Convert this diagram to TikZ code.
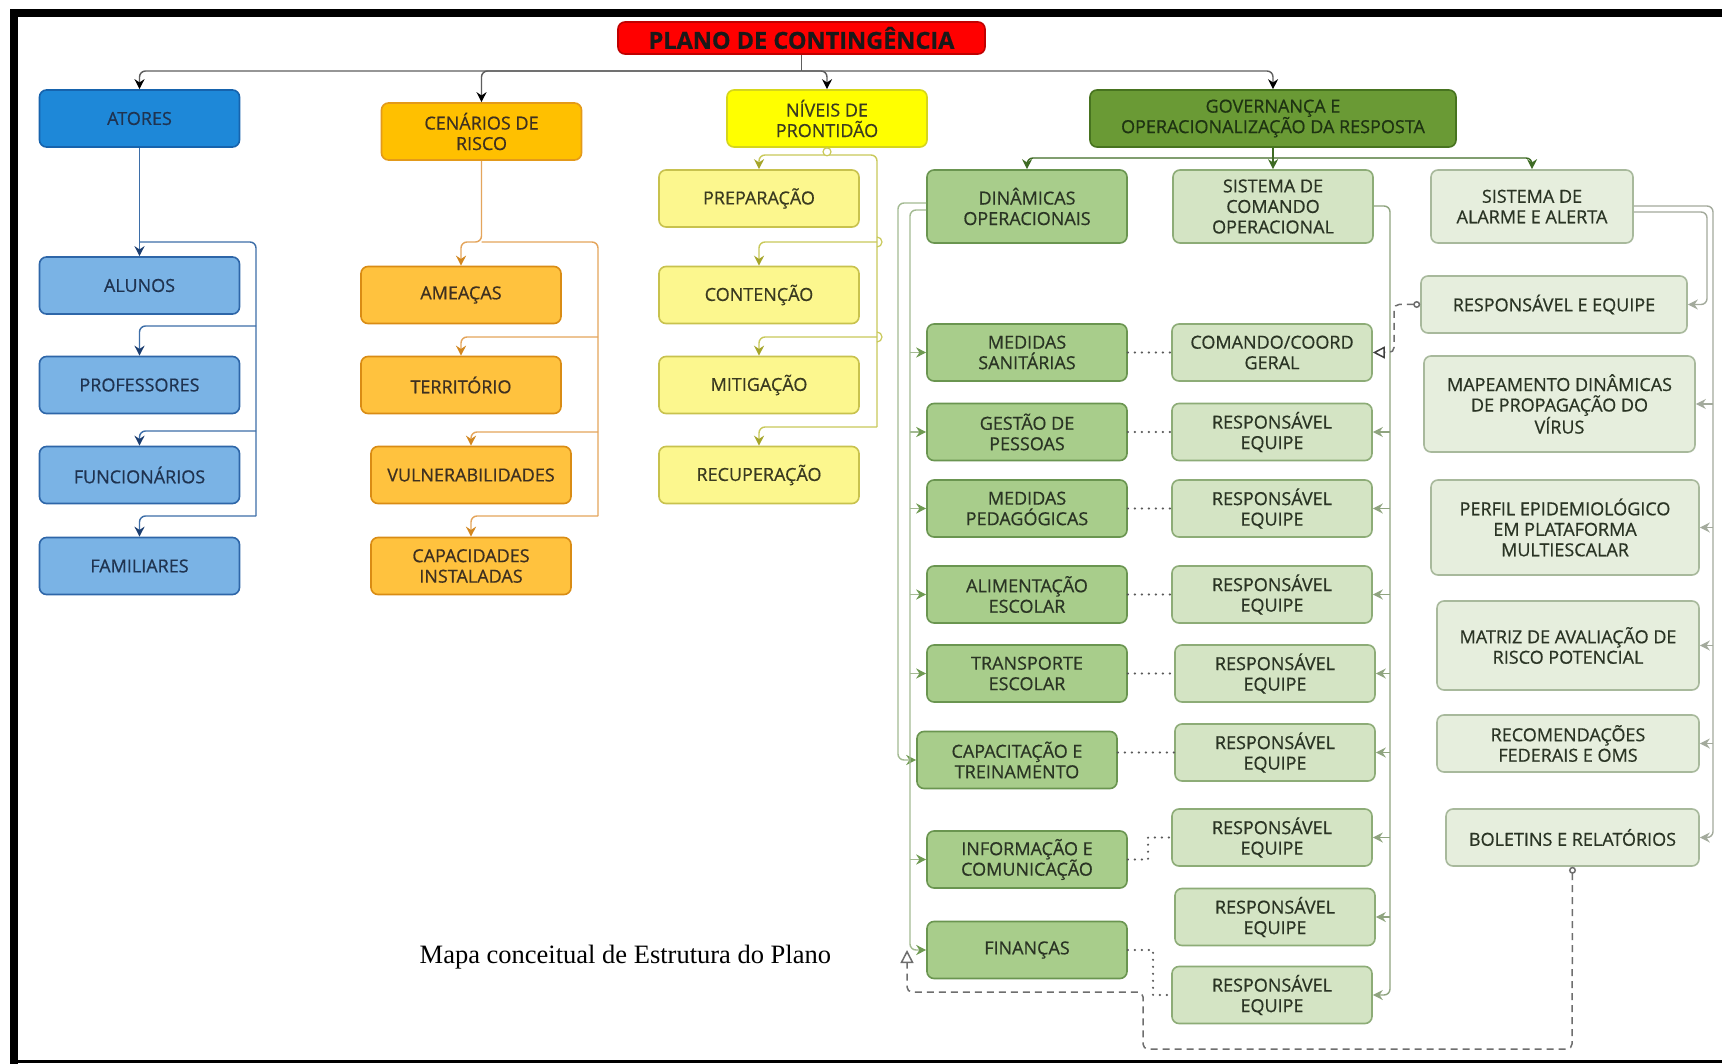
\documentclass[tikz,border=0pt]{standalone}
\usepackage{fontspec}
\setmainfont{Liberation Serif}
\newfontfamily\boxfont{Open Sans}[FakeBold=0.6]
\usetikzlibrary{arrows.meta}
\definecolor{plR}{HTML}{FF0000}
\definecolor{plB}{HTML}{C00000}
\definecolor{atF}{HTML}{1E88D8}
\definecolor{atB}{HTML}{1663AD}
\definecolor{blF}{HTML}{7AB3E5}
\definecolor{blB}{HTML}{2E66A8}
\definecolor{blT}{HTML}{1F3350}
\definecolor{ceF}{HTML}{FFC000}
\definecolor{ceB}{HTML}{E39A1A}
\definecolor{orF}{HTML}{FFC23E}
\definecolor{orB}{HTML}{D98C14}
\definecolor{orT}{HTML}{3E3020}
\definecolor{niF}{HTML}{FFFF00}
\definecolor{niB}{HTML}{D6D61A}
\definecolor{yeF}{HTML}{FCF78E}
\definecolor{yeB}{HTML}{C8C24E}
\definecolor{yeT}{HTML}{3A3A20}
\definecolor{goF}{HTML}{6A9A35}
\definecolor{goB}{HTML}{47731F}
\definecolor{goT}{HTML}{1E3312}
\definecolor{diF}{HTML}{A8CD8B}
\definecolor{diB}{HTML}{6A9550}
\definecolor{scF}{HTML}{D4E4C4}
\definecolor{scB}{HTML}{8DAC77}
\definecolor{saF}{HTML}{E6EEDD}
\definecolor{saB}{HTML}{A8B99C}
\definecolor{grT}{HTML}{2A3424}
\definecolor{busC}{HTML}{5E5E5E}
\definecolor{blL}{HTML}{3D6EA8}
\definecolor{blA}{HTML}{1B3D70}
\definecolor{orL}{HTML}{E4A55C}
\definecolor{orA}{HTML}{D2861E}
\definecolor{yeL}{HTML}{C9C95A}
\definecolor{yeA}{HTML}{A5A52A}
\definecolor{goL}{HTML}{3E6B24}
\definecolor{diL}{HTML}{A3BA92}
\definecolor{diA}{HTML}{6F9A52}
\definecolor{scL}{HTML}{8FA47F}
\definecolor{saL}{HTML}{A3AA9C}
\definecolor{dsh}{HTML}{6E6E6E}
\begin{document}
\begin{tikzpicture}[x=1pt,y=-1pt,
  bx/.style={draw, rounded corners=7pt, line width=1.6pt, minimum width=#1, minimum height=57,
    align=center, inner sep=2pt, font=\boxfont\fontsize{18}{20.5}\selectfont},
  bx/.default=200,
  plano/.style={bx=367, fill=plR, draw=plB, minimum height=32, text=black!90,
    font=\boxfont\bfseries\fontsize{23.5}{25}\selectfont},
  atop/.style={bx, fill=atF, draw=atB, text=blT},
  bchild/.style={bx, fill=blF, draw=blB, text=blT},
  ctop/.style={bx, fill=ceF, draw=ceB, text=orT},
  ochild/.style={bx, fill=orF, draw=orB, text=orT},
  ntop/.style={bx, fill=niF, draw=niB, text=yeT},
  ychild/.style={bx, fill=yeF, draw=yeB, text=yeT},
  gtop/.style={bx=366, fill=goF, draw=goB, text=goT},
  dbox/.style={bx, fill=diF, draw=diB, text=grT},
  sbox/.style={bx, fill=scF, draw=scB, text=grT},
  abox/.style={bx=#1, fill=saF, draw=saB, text=grT},
  abox/.default=266,
  ln/.style={line width=1.4pt, rounded corners=6pt},
  arr/.style={-{Stealth[length=10pt,width=10pt,color=#1]}},
  busl/.style={ln, draw=busC},
  bll/.style={ln, draw=blL},
  orl/.style={ln, draw=orL},
  yel/.style={ln, draw=yeL},
  gol/.style={ln, draw=goL},
  dil/.style={ln, draw=diL},
  scl/.style={ln, draw=scL},
  sal/.style={ln, draw=saL},
  dotl/.style={draw=black!65, line width=2.4pt, line cap=round, dash pattern=on 0pt off 7pt},
  dashl/.style={draw=dsh, line width=1.5pt, dash pattern=on 7pt off 5pt, rounded corners=5pt}
]
\useasboundingbox (0,0) rectangle (1722,1064);
\fill[white] (0,0) rectangle (1722,1064);
% frame
\fill[black] (10,9) rectangle (18,1064);
\fill[black] (10,9) rectangle (1722,17);
\fill[black] (10,1060) rectangle (1722,1063);

% top level
\node[plano] (plano) at (801.5,38) {PLANO DE CONTINGÊNCIA};
\node[atop] (atores) at (139.5,118.5) {ATORES};
\node[ctop] (cen) at (481.5,131.5) {CENÁRIOS DE\\RISCO};
\node[ntop] (niv) at (827,118.5) {NÍVEIS DE\\PRONTIDÃO};
\node[gtop] (gov) at (1273,118.5) {GOVERNANÇA E\\OPERACIONALIZAÇÃO DA RESPOSTA};

% blue
\node[bchild] (alu) at (139.5,285.5) {ALUNOS};
\node[bchild] (prof) at (139.5,385) {PROFESSORES};
\node[bchild] (func) at (139.5,475) {FUNCIONÁRIOS};
\node[bchild] (fam) at (139.5,566) {FAMILIARES};
% orange
\node[ochild] (amea) at (461,295) {AMEAÇAS};
\node[ochild] (terr) at (461,385) {TERRITÓRIO};
\node[ochild] (vuln) at (471,475) {VULNERABILIDADES};
\node[ochild] (capi) at (471,566) {CAPACIDADES\\INSTALADAS};
% yellow
\node[ychild] (prep) at (759,198.5) {PREPARAÇÃO};
\node[ychild] (cont) at (759,295) {CONTENÇÃO};
\node[ychild] (miti) at (759,385) {MITIGAÇÃO};
\node[ychild] (recu) at (759,475) {RECUPERAÇÃO};
% green heads
\node[dbox, minimum height=73] (din) at (1027,206.5) {DINÂMICAS\\OPERACIONAIS};
\node[sbox, minimum height=73] (sco) at (1273,206.5) {SISTEMA DE\\COMANDO\\OPERACIONAL};
\node[abox=202, minimum height=73] (saa) at (1532,206.5) {SISTEMA DE\\ALARME E ALERTA};
% din children
\node[dbox] (ms) at (1027,352.5) {MEDIDAS\\SANITÁRIAS};
\node[dbox] (gp) at (1027,432) {GESTÃO DE\\PESSOAS};
\node[dbox] (mp) at (1027,508.5) {MEDIDAS\\PEDAGÓGICAS};
\node[dbox] (ae) at (1027,594.5) {ALIMENTAÇÃO\\ESCOLAR};
\node[dbox] (te) at (1027,673.5) {TRANSPORTE\\ESCOLAR};
\node[dbox] (ct) at (1017,760) {CAPACITAÇÃO E\\TREINAMENTO};
\node[dbox] (ic) at (1027,859.5) {INFORMAÇÃO E\\COMUNICAÇÃO};
\node[dbox] (fin) at (1027,950) {FINANÇAS};
% sco children
\node[sbox] (ccg) at (1272,352.5) {COMANDO/COORD\\GERAL};
\node[sbox] (r1) at (1272,432) {RESPONSÁVEL\\EQUIPE};
\node[sbox] (r2) at (1272,508.5) {RESPONSÁVEL\\EQUIPE};
\node[sbox] (r3) at (1272,594.5) {RESPONSÁVEL\\EQUIPE};
\node[sbox] (r4) at (1275,673.5) {RESPONSÁVEL\\EQUIPE};
\node[sbox] (r5) at (1275,752.5) {RESPONSÁVEL\\EQUIPE};
\node[sbox] (r6) at (1272,837.5) {RESPONSÁVEL\\EQUIPE};
\node[sbox] (r7) at (1275,917) {RESPONSÁVEL\\EQUIPE};
\node[sbox] (r8) at (1272,995) {RESPONSÁVEL\\EQUIPE};
% saa children
\node[abox=266] (re) at (1554,304.5) {RESPONSÁVEL E EQUIPE};
\node[abox=271, minimum height=96] (map) at (1559.5,404) {MAPEAMENTO DINÂMICAS\\DE PROPAGAÇÃO DO\\VÍRUS};
\node[abox=268, minimum height=95] (perf) at (1565,527.5) {PERFIL EPIDEMIOLÓGICO\\EM PLATAFORMA\\MULTIESCALAR};
\node[abox=262, minimum height=89] (mat) at (1568,645.5) {MATRIZ DE AVALIAÇÃO DE\\RISCO POTENCIAL};
\node[abox=262] (rec) at (1568,743.5) {RECOMENDAÇÕES\\FEDERAIS E OMS};
\node[abox=253] (bol) at (1572.5,837.5) {BOLETINS E RELATÓRIOS};

% caption
\node[font=\rmfamily\fontsize{26.5}{30}\selectfont, anchor=west, inner sep=0pt] (capt) at (419.5,957) {Mapa conceitual de Estrutura do Plano};

% top bus
\coordinate (bj) at (801.5,71);
\draw[busl] (plano.south) -- (bj);
\draw[busl, arr=black] (bj) -- (atores.north |- bj) -- (atores.north);
\draw[busl, arr=black] (bj) -- (cen.north |- bj) -- (cen.north);
\draw[busl, arr=black] (bj) -- (niv.north |- bj) -- (niv.north);
\draw[busl, arr=black] (bj) -- (gov.north |- bj) -- (gov.north);

% blue connectors
\coordinate (bv) at (256,242);
\draw[bll, arr=blA] (atores.south) -- (alu.north);
\draw[bll] (alu.north |- bv) -- (bv) -- (256,516);
\draw[bll, arr=blA] (256,326) -- (prof.north |- 0,326) -- (prof.north);
\draw[bll, arr=blA] (256,431) -- (func.north |- 0,431) -- (func.north);
\draw[bll, arr=blA] (256,516) -- (fam.north |- 0,516) -- (fam.north);

% orange connectors
\coordinate (ov) at (598,242);
\draw[orl, arr=orA] (cen.south) -- (cen.south |- ov) -- (amea.north |- ov) -- (amea.north);
\draw[orl] (cen.south |- ov) -- (ov) -- (598,516);
\draw[orl, arr=orA] (598,337) -- (terr.north |- 0,337) -- (terr.north);
\draw[orl, arr=orA] (598,432) -- (vuln.north |- 0,432) -- (vuln.north);
\draw[orl, arr=orA] (598,516) -- (capi.north |- 0,516) -- (capi.north);

% yellow connectors
\coordinate (yj) at (827,155);
\draw[yel] (niv.south) -- (yj);
\draw[yel, arr=yeA] (yj) -- (prep.north |- yj) -- (prep.north);
\draw[yel] (yj) -- (877,155) -- (877,427);
\draw[yel, arr=yeA] (877,242) -- (cont.north |- 0,242) -- (cont.north);
\draw[yel, arr=yeA] (877,337) -- (miti.north |- 0,337) -- (miti.north);
\draw[yel, arr=yeA] (877,427) -- (recu.north |- 0,427) -- (recu.north);
\draw[yeL, line width=1.2pt, fill=white] (niv.south) ++(0,4) circle[radius=4];
\draw[yeL, line width=1.2pt] (877,237) arc[start angle=-90, end angle=90, radius=5];
\draw[yeL, line width=1.2pt] (877,332) arc[start angle=-90, end angle=90, radius=5];

% governance bus
\coordinate (gj) at (1273,158);
\draw[gol] (gov.south) -- (gj);
\draw[gol, arr=goL] (gj) -- (din.north |- gj) -- (din.north);
\draw[gol, arr=goL] (gj) -- (sco.north);
\draw[gol, arr=goL] (gj) -- (saa.north |- gj) -- (saa.north);

% dinamicas connectors
\draw[dil, arr=diA] (din.west |- 0,203) -- (898,203) -- (898,760) -- (ct.west);
\draw[dil, arr=diA] (din.west |- 0,210) -- (910,210) -- (910,950) -- (fin.west);
\foreach \n in {ms,gp,mp,ae,te,ic}{
  \draw[dil, arr=diA] (910,0 |- \n.west) -- (\n.west);
}

% sistema de comando connectors
\draw[scl, arr=scL] (sco.east |- 0,206) -- (1390,206) -- (1390,995) -- (r8.east);
\foreach \n in {r1,r2,r3,r4,r5,r6,r7}{
  \draw[scl, arr=scL] (1390,0 |- \n.east) -- (\n.east);
}

% alarme connectors
\draw[sal, arr=saL] (saa.east |- 0,212) -- (1707,212) -- (1707,304.5) -- (re.east);
\draw[sal, arr=saL] (saa.east |- 0,206) -- (1713,206) -- (1713,837.5) -- (bol.east);
\foreach \n in {map,perf,mat,rec}{
  \draw[sal, arr=saL] (1713,0 |- \n.east) -- (\n.east);
}

% dashed link responsavel e equipe -> comando/coord
\draw[dashl, {Circle[open,length=7pt,width=7pt]}-{Triangle[open,length=12pt,width=12pt,color=black!75]}]
  (re.west) -- (1394,304.5) -- (1394,352.5) -- (ccg.east);

% dotted links
\draw[dotl] (ms.east) -- (ccg.west);
\draw[dotl] (gp.east) -- (r1.west);
\draw[dotl] (mp.east) -- (r2.west);
\draw[dotl] (ae.east) -- (r3.west);
\draw[dotl] (te.east) -- (r4.west);
\draw[dotl] (ct.east |- r5.west) -- (r5.west);
\draw[dotl] (ic.east) -- (1148,859.5) -- (1148,837.5) -- (r6.west);
\draw[dotl] (fin.east) -- (1153,950) -- (1153,995) -- (r8.west);

% dashed link boletins -> dinamicas
\coordinate (dtip) at (907,950);
\draw[dashl, {Circle[open,length=7pt,width=7pt]}-{Triangle[open,length=13pt,width=13pt]}]
  (bol.south) -- (1572,1049) -- (1143,1049) -- (1143,992) -- (907,992) -- (dtip);
\end{tikzpicture}
\end{document}
